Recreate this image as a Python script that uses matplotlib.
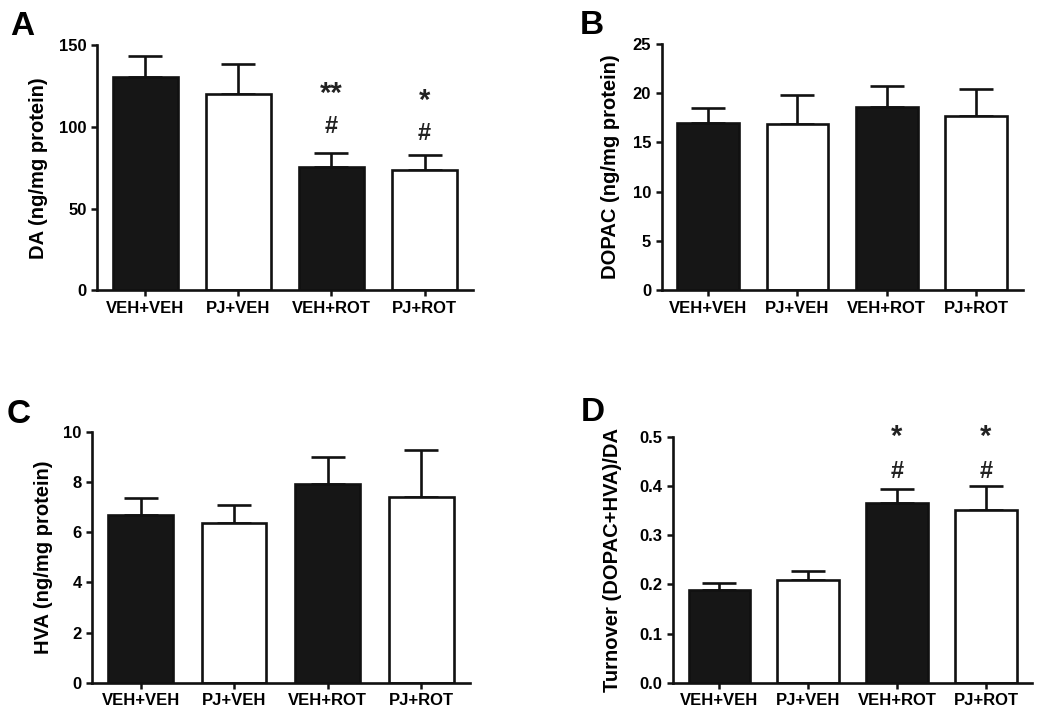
import numpy as np
import matplotlib.pyplot as plt
from matplotlib.ticker import FormatStrFormatter

plt.rcParams['font.family'] = ['Liberation Sans', 'DejaVu Sans']
plt.rcParams['font.weight'] = 'bold'

groups = ['VEH+VEH', 'PJ+VEH', 'VEH+ROT', 'PJ+ROT']
fills = ['#161616', 'white', '#161616', 'white']

# mean and SEM per group
da_mean = [130.4, 120.4, 75.5, 73.5]
da_sem = [12.9, 18.4, 8.8, 9.4]
dopac_mean = [17.0, 16.85, 18.6, 17.7]
dopac_sem = [1.5, 3.0, 2.1, 2.7]
hva_mean = [6.7, 6.35, 7.9, 7.4]
hva_sem = [0.65, 0.73, 1.1, 1.87]
turn_mean = [0.189, 0.209, 0.365, 0.351]
turn_sem = [0.014, 0.019, 0.029, 0.048]

# significance marks: (group index, text, y value)
da_marks = [(2, '**', 124.5), (2, '#', 100.0), (3, '*', 120.0), (3, '#', 96.0)]
turn_marks = [(2, '*', 0.514), (2, '#', 0.430), (3, '*', 0.514), (3, '#', 0.430)]

# letter, mean, sem, ylabel, yticks, tick format, marks, axes rect, ylabel x, letter x/y
panels = [
    ('A', da_mean, da_sem, 'DA (ng/mg protein)', [0, 50, 100, 150], None, da_marks,
     [0.0924, 0.597, 0.358, 0.340], -0.13, (-0.23, 1.078)),
    ('B', dopac_mean, dopac_sem, 'DOPAC (ng/mg protein)', [0, 5, 10, 15, 20, 25], None, [],
     [0.630, 0.597, 0.344, 0.342], -0.116, (-0.225, 1.075)),
    ('C', hva_mean, hva_sem, 'HVA (ng/mg protein)', [0, 2, 4, 6, 8, 10], None, [],
     [0.0876, 0.0514, 0.360, 0.349], -0.103, (-0.225, 1.07)),
    ('D', turn_mean, turn_sem, 'Turnover (DOPAC+HVA)/DA', [0, 0.1, 0.2, 0.3, 0.4, 0.5], '%.1f', turn_marks,
     [0.641, 0.0514, 0.342, 0.342], -0.142, (-0.258, 1.10)),
]

fig = plt.figure(figsize=(10.5, 7.2), dpi=100)
x = np.arange(len(groups))

for letter, mean, sem, ylabel, yticks, fmt, marks, rect, lab_x, let_xy in panels:
    ax = fig.add_axes(rect)
    ax.bar(x, mean, width=0.69, color=fills, edgecolor='#111111', linewidth=1.9, zorder=2)
    ax.errorbar(x, mean, yerr=[np.zeros(len(mean)), sem], fmt='none', ecolor='#111111',
                elinewidth=1.9, capsize=12, capthick=1.9, zorder=1)
    ax.set_xlim(-0.52, 3.52)
    ax.set_ylim(0, yticks[-1])
    ax.set_yticks(yticks)
    if fmt:
        ax.yaxis.set_major_formatter(FormatStrFormatter(fmt))
    ax.set_xticks(x)
    ax.set_xticklabels(groups)
    ax.tick_params(labelsize=12, width=1.8, length=4.5, color='#111111', pad=3)
    for s in ['top', 'right']:
        ax.spines[s].set_visible(False)
    for s in ['left', 'bottom']:
        ax.spines[s].set_linewidth(1.9)
        ax.spines[s].set_color('#111111')
    ax.set_ylabel(ylabel, fontsize=14.5, fontweight='bold')
    ax.yaxis.set_label_coords(lab_x, 0.5)
    for i, txt, yv in marks:
        if '*' in txt:
            # asterisks sit high in the text box, nudge them down
            ax.annotate(txt, (i, yv), xytext=(0, -5), textcoords='offset points',
                        ha='center', va='center', fontsize=21, fontweight='bold',
                        color='#222222', annotation_clip=False)
        else:
            ax.text(i, yv, txt, ha='center', va='center', fontsize=17, fontweight='bold',
                    color='#222222')
    ax.text(let_xy[0], let_xy[1], letter, transform=ax.transAxes, fontsize=24,
            fontweight='bold', va='center', ha='left')

fig.savefig('out.png', dpi=100)
